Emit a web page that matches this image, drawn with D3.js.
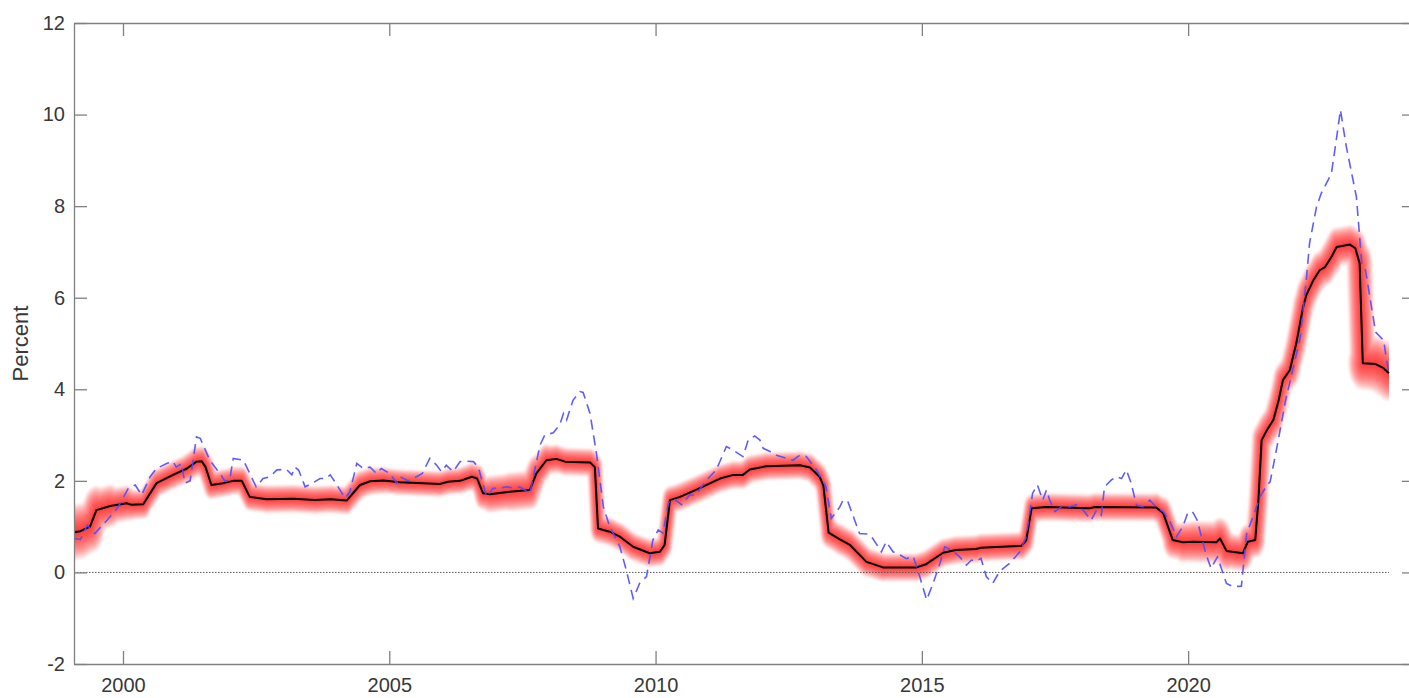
<!DOCTYPE html>
<html>
<head>
<meta charset="utf-8">
<script src="https://cdn.jsdelivr.net/npm/d3@7"></script>
<style>
  body { margin: 0; background: #fff; }
  svg { display: block; font-family: "Liberation Sans", Arial, Helvetica, sans-serif; }
</style>
</head>
<body>
<script>
// black line: median estimate (decimal years)
var medYears = [1999.08, 1999.2, 1999.38, 1999.5, 1999.76, 2000.07, 2000.15, 2000.38, 2000.63, 2000.94,
  2001.2, 2001.38, 2001.48, 2001.55, 2001.66, 2001.88, 2002.07, 2002.23, 2002.38, 2002.7,
  2003.2, 2003.6, 2003.9, 2004.2, 2004.45, 2004.64, 2004.89, 2005.2, 2005.95, 2006.1,
  2006.33, 2006.55, 2006.65, 2006.76, 2006.89, 2007.26, 2007.64, 2007.76, 2007.95, 2008.14,
  2008.3, 2008.77, 2008.86, 2008.92, 2009.14, 2009.33, 2009.58, 2009.89, 2010.08, 2010.17,
  2010.27, 2010.46, 2010.83, 2011.21, 2011.46, 2011.64, 2011.77, 2012.08, 2012.71, 2012.9,
  2013.08, 2013.15, 2013.25, 2013.46, 2013.65, 2013.96, 2014.27, 2014.9, 2015.08, 2015.4,
  2015.64, 2016.02, 2016.11, 2016.87, 2016.96, 2017.06, 2017.34, 2018.15, 2018.25, 2019.4,
  2019.53, 2019.71, 2019.9, 2020.09, 2020.53, 2020.6, 2020.72, 2021.03, 2021.12, 2021.26,
  2021.32, 2021.38, 2021.48, 2021.6, 2021.7, 2021.78, 2021.91, 2022.03, 2022.16, 2022.22,
  2022.35, 2022.47, 2022.57, 2022.69, 2022.79, 2023.04, 2023.14, 2023.22, 2023.28, 2023.52,
  2023.67, 2023.77];
var medValues = [0.88, 0.9, 1.0, 1.36, 1.45, 1.51, 1.48, 1.49, 1.95, 2.13,
  2.27, 2.42, 2.43, 2.3, 1.91, 1.95, 2.0, 2.0, 1.65, 1.6,
  1.61, 1.58, 1.6, 1.57, 1.91, 1.99, 2.01, 1.97, 1.93, 1.98,
  2.0, 2.09, 2.05, 1.73, 1.71, 1.76, 1.8, 2.16, 2.45, 2.48,
  2.42, 2.4, 2.3, 0.96, 0.89, 0.78, 0.56, 0.42, 0.45, 0.6,
  1.58, 1.65, 1.84, 2.05, 2.13, 2.13, 2.25, 2.32, 2.34, 2.29,
  2.09, 1.9, 0.87, 0.72, 0.6, 0.23, 0.11, 0.11, 0.18, 0.43,
  0.49, 0.51, 0.54, 0.58, 0.7, 1.4, 1.43, 1.4, 1.43, 1.42,
  1.3, 0.71, 0.66, 0.67, 0.66, 0.74, 0.47, 0.42, 0.67, 0.71,
  1.58, 2.89, 3.11, 3.33, 3.76, 4.2, 4.42, 5.0, 5.8, 6.06,
  6.38, 6.6, 6.67, 6.89, 7.11, 7.16, 7.08, 6.75, 4.57, 4.55,
  4.46, 4.35];
// half width of the outer red band around the median, percent
var bandHalf = [0.6, 0.6, 0.55, 0.5, 0.42, 0.35, 0.33, 0.3, 0.3, 0.3,
  0.3, 0.32, 0.32, 0.32, 0.3, 0.3, 0.3, 0.3, 0.3, 0.3,
  0.3, 0.3, 0.3, 0.3, 0.3, 0.3, 0.28, 0.28, 0.28, 0.28,
  0.28, 0.3, 0.3, 0.33, 0.38, 0.42, 0.42, 0.38, 0.32, 0.3,
  0.3, 0.3, 0.3, 0.3, 0.3, 0.3, 0.3, 0.3, 0.3, 0.3,
  0.3, 0.3, 0.3, 0.3, 0.3, 0.3, 0.3, 0.3, 0.3, 0.3,
  0.3, 0.3, 0.32, 0.33, 0.33, 0.32, 0.3, 0.3, 0.3, 0.3,
  0.3, 0.3, 0.3, 0.3, 0.3, 0.3, 0.3, 0.3, 0.3, 0.3,
  0.32, 0.38, 0.42, 0.45, 0.45, 0.45, 0.4, 0.38, 0.38, 0.38,
  0.38, 0.38, 0.38, 0.38, 0.38, 0.38, 0.38, 0.4, 0.4, 0.4,
  0.4, 0.4, 0.4, 0.42, 0.42, 0.42, 0.42, 0.45, 0.55, 0.6,
  0.6, 0.6];
// blue dashed line: observed rate
var obsYears = [1999.08, 1999.2, 1999.33, 1999.47, 1999.7, 1999.91, 2000.1, 2000.23, 2000.35, 2000.51,
  2000.63, 2000.82, 2000.94, 2001.0, 2001.1, 2001.16, 2001.26, 2001.38, 2001.45, 2001.63,
  2001.82, 2001.91, 2002.0, 2002.07, 2002.26, 2002.5, 2002.63, 2002.76, 2002.89, 2003.07,
  2003.17, 2003.23, 2003.3, 2003.42, 2003.54, 2003.7, 2003.8, 2003.89, 2003.98, 2004.17,
  2004.26, 2004.39, 2004.51, 2004.64, 2004.76, 2004.85, 2005.01, 2005.14, 2005.2, 2005.36,
  2005.51, 2005.62, 2005.76, 2005.89, 2005.98, 2006.07, 2006.2, 2006.33, 2006.45, 2006.58,
  2006.67, 2006.83, 2006.95, 2007.08, 2007.2, 2007.36, 2007.45, 2007.64, 2007.83, 2007.92,
  2008.08, 2008.2, 2008.27, 2008.33, 2008.45, 2008.58, 2008.64, 2008.77, 2008.89, 2009.02,
  2009.14, 2009.33, 2009.45, 2009.58, 2009.7, 2009.83, 2009.95, 2010.05, 2010.14, 2010.24,
  2010.33, 2010.49, 2010.64, 2010.75, 2010.96, 2011.14, 2011.33, 2011.46, 2011.64, 2011.74,
  2011.86, 2011.96, 2012.02, 2012.15, 2012.27, 2012.46, 2012.58, 2012.71, 2012.83, 2013.02,
  2013.2, 2013.3, 2013.46, 2013.52, 2013.61, 2013.83, 2013.99, 2014.08, 2014.24, 2014.33,
  2014.46, 2014.59, 2014.71, 2014.84, 2014.96, 2015.09, 2015.21, 2015.34, 2015.43, 2015.56,
  2015.71, 2015.84, 2015.93, 2016.02, 2016.11, 2016.21, 2016.33, 2016.46, 2016.65, 2016.84,
  2016.96, 2017.08, 2017.17, 2017.27, 2017.34, 2017.4, 2017.5, 2017.65, 2017.78, 2017.9,
  2018.03, 2018.18, 2018.28, 2018.37, 2018.43, 2018.56, 2018.65, 2018.75, 2018.84, 2018.93,
  2019.03, 2019.15, 2019.28, 2019.4, 2019.53, 2019.65, 2019.78, 2019.9, 2019.99, 2020.08,
  2020.17, 2020.33, 2020.43, 2020.55, 2020.72, 2020.84, 2021.0, 2021.1, 2021.22, 2021.35,
  2021.48, 2021.54, 2021.67, 2021.83, 2022.1, 2022.22, 2022.28, 2022.41, 2022.5, 2022.69,
  2022.79, 2022.86, 2022.97, 2023.16, 2023.26, 2023.33, 2023.52, 2023.67, 2023.76];
var obsValues = [0.74, 0.72, 1.03, 0.85, 1.14, 1.43, 1.84, 1.91, 1.69, 2.09,
  2.27, 2.38, 2.42, 2.3, 2.38, 1.95, 2.0, 2.96, 2.93, 2.45,
  2.16, 2.0, 2.0, 2.49, 2.45, 1.87, 2.05, 2.09, 2.24, 2.25,
  2.13, 2.3, 2.23, 1.87, 1.94, 2.05, 2.05, 2.13, 1.98, 1.62,
  1.76, 2.38, 2.27, 2.3, 2.16, 2.27, 2.16, 1.95, 2.09, 2.0,
  2.09, 2.16, 2.49, 2.34, 2.2, 2.34, 2.2, 2.42, 2.43, 2.42,
  2.3, 1.65, 1.84, 1.84, 1.87, 1.84, 1.87, 1.73, 2.78, 3.0,
  3.05, 3.22, 3.47, 3.33, 3.76, 3.95, 3.93, 3.47, 2.6, 1.43,
  1.0, 0.56, 0.05, -0.57, -0.24, -0.09, 0.71, 0.93, 0.86, 1.51,
  1.62, 1.48, 1.69, 1.69, 2.02, 2.24, 2.75, 2.67, 2.53, 2.89,
  2.98, 2.89, 2.71, 2.64, 2.56, 2.49, 2.45, 2.56, 2.53, 2.24,
  1.87, 1.18, 1.43, 1.58, 1.55, 0.85, 0.84, 0.74, 0.45, 0.67,
  0.45, 0.38, 0.3, 0.35, -0.09, -0.6, -0.24, 0.2, 0.56, 0.49,
  0.34, 0.16, 0.27, 0.24, 0.31, -0.09, -0.24, 0.02, 0.2, 0.45,
  0.78, 1.73, 1.91, 1.58, 1.8, 1.58, 1.33, 1.46, 1.43, 1.48,
  1.36, 1.14, 1.36, 1.25, 1.87, 2.02, 2.09, 2.05, 2.24, 1.95,
  1.47, 1.43, 1.58, 1.43, 1.33, 1.14, 0.78, 1.0, 1.29, 1.33,
  1.14, 0.42, 0.09, 0.34, -0.24, -0.31, -0.3, 0.85, 1.22, 1.65,
  1.91, 1.98, 2.75, 3.76, 5.1, 6.4, 7.19, 7.98, 8.28, 8.71,
  9.51, 10.1, 9.3, 8.2, 6.75, 6.6, 5.25, 5.07, 4.4];

var yTicks = [-2, 0, 2, 4, 6, 8, 10, 12];
var xTicks = [2000, 2005, 2010, 2015, 2020];
// fractions of the outer band width, drawn from outside in
var bandLevels = [1, 0.9, 0.8, 0.7, 0.6, 0.5, 0.4, 0.3, 0.2, 0.1];

var width = 1409, height = 698;
var pLeft = 74, pTop = 23, pRight = 1415, pBottom = 664;
var squash = 0.55; // fan is narrower sideways than up/down

var svg = d3.select("body").append("svg")
    .attr("width", width)
    .attr("height", height);

var x = d3.scaleLinear().domain([1999.08, 2024.26]).range([pLeft, pRight]);
var y = d3.scaleLinear().domain([-2, 12]).range([pBottom, pTop]);
var unit = y(0) - y(1);
var xStart = x(medYears[0]), xEnd = x(medYears[medYears.length - 1]);

var defs = svg.append("defs");
defs.append("clipPath").attr("id", "plot")
  .append("rect")
  .attr("x", pLeft).attr("y", pTop)
  .attr("width", pRight - pLeft).attr("height", pBottom - pTop);
defs.append("clipPath").attr("id", "fanclip")
  .append("rect")
  .attr("x", xStart).attr("y", pTop)
  .attr("width", xEnd - xStart).attr("height", pBottom - pTop);
defs.append("filter").attr("id", "soft")
  .append("feGaussianBlur").attr("stdDeviation", 1.2);

var plot = svg.append("g").attr("clip-path", "url(#plot)");

// red fan: median path stroked at several widths
var segs = d3.range(medYears.length - 1).map(function(i) {
  return {x1: x(medYears[i]) / squash, y1: y(medValues[i]),
          x2: x(medYears[i + 1]) / squash, y2: y(medValues[i + 1]),
          w: (bandHalf[i] + bandHalf[i + 1]) / 2};
});
var fan = plot.append("g").attr("clip-path", "url(#fanclip)")
  .append("g").attr("filter", "url(#soft)")
  .append("g").attr("transform", "scale(" + squash + ",1)");
bandLevels.forEach(function(f) {
  fan.append("g")
    .attr("opacity", 0.13)
    .selectAll("line")
    .data(segs)
    .enter()
    .append("line")
    .attr("x1", function(d) { return d.x1; })
    .attr("y1", function(d) { return d.y1; })
    .attr("x2", function(d) { return d.x2; })
    .attr("y2", function(d) { return d.y2; })
    .attr("stroke", "#ff0000")
    .attr("stroke-width", function(d) { return 2 * d.w * f * unit; })
    .attr("stroke-linecap", "round");
});

// zero line
plot.append("line")
  .attr("x1", xStart).attr("x2", xEnd)
  .attr("y1", y(0)).attr("y2", y(0))
  .attr("stroke", "#555")
  .attr("stroke-width", 1)
  .attr("stroke-dasharray", "1.5,1.5");

var medLine = d3.line()
  .x(function(d, i) { return x(medYears[i]); })
  .y(function(d) { return y(d); });
plot.append("path")
  .attr("d", medLine(medValues))
  .attr("fill", "none")
  .attr("stroke", "#000")
  .attr("stroke-width", 2)
  .attr("stroke-linejoin", "round");

var obsLine = d3.line()
  .x(function(d, i) { return x(obsYears[i]); })
  .y(function(d) { return y(d); });
plot.append("path")
  .attr("d", obsLine(obsValues))
  .attr("fill", "none")
  .attr("stroke", "#4d4dff")
  .attr("stroke-opacity", 0.9)
  .attr("stroke-width", 1.6)
  .attr("stroke-dasharray", "10,6");

// axes (box with inward ticks)
function styleAxis(g) {
  g.attr("font-family", null).attr("font-size", null);
  g.selectAll(".domain").attr("stroke", "#808080").attr("stroke-width", 1.3);
  g.selectAll(".tick line").attr("stroke", "#808080").attr("stroke-width", 1.3);
  g.selectAll(".tick text").attr("fill", "#383838").style("font-size", "20px");
}
var plain = function(d) { return String(d); };
svg.append("g")
  .attr("transform", "translate(" + pLeft + ",0)")
  .call(d3.axisLeft(y).tickValues(yTicks).tickSize(-13).tickSizeOuter(0).tickPadding(9).tickFormat(plain))
  .call(styleAxis);
svg.append("g")
  .attr("transform", "translate(" + pRight + ",0)")
  .call(d3.axisRight(y).tickValues(yTicks).tickSize(-13).tickSizeOuter(0).tickFormat(""))
  .call(styleAxis);
svg.append("g")
  .attr("transform", "translate(0," + pBottom + ")")
  .call(d3.axisBottom(x).tickValues(xTicks).tickSize(-13).tickSizeOuter(0).tickPadding(14).tickFormat(plain))
  .call(styleAxis);
svg.append("g")
  .attr("transform", "translate(0," + pTop + ")")
  .call(d3.axisTop(x).tickValues(xTicks).tickSize(-13).tickSizeOuter(0).tickFormat(""))
  .call(styleAxis);

svg.append("text")
  .attr("transform", "translate(28," + ((pTop + pBottom) / 2) + ") rotate(-90)")
  .attr("text-anchor", "middle")
  .attr("fill", "#383838")
  .style("font-size", "22px")
  .text("Percent");
</script>
</body>
</html>
